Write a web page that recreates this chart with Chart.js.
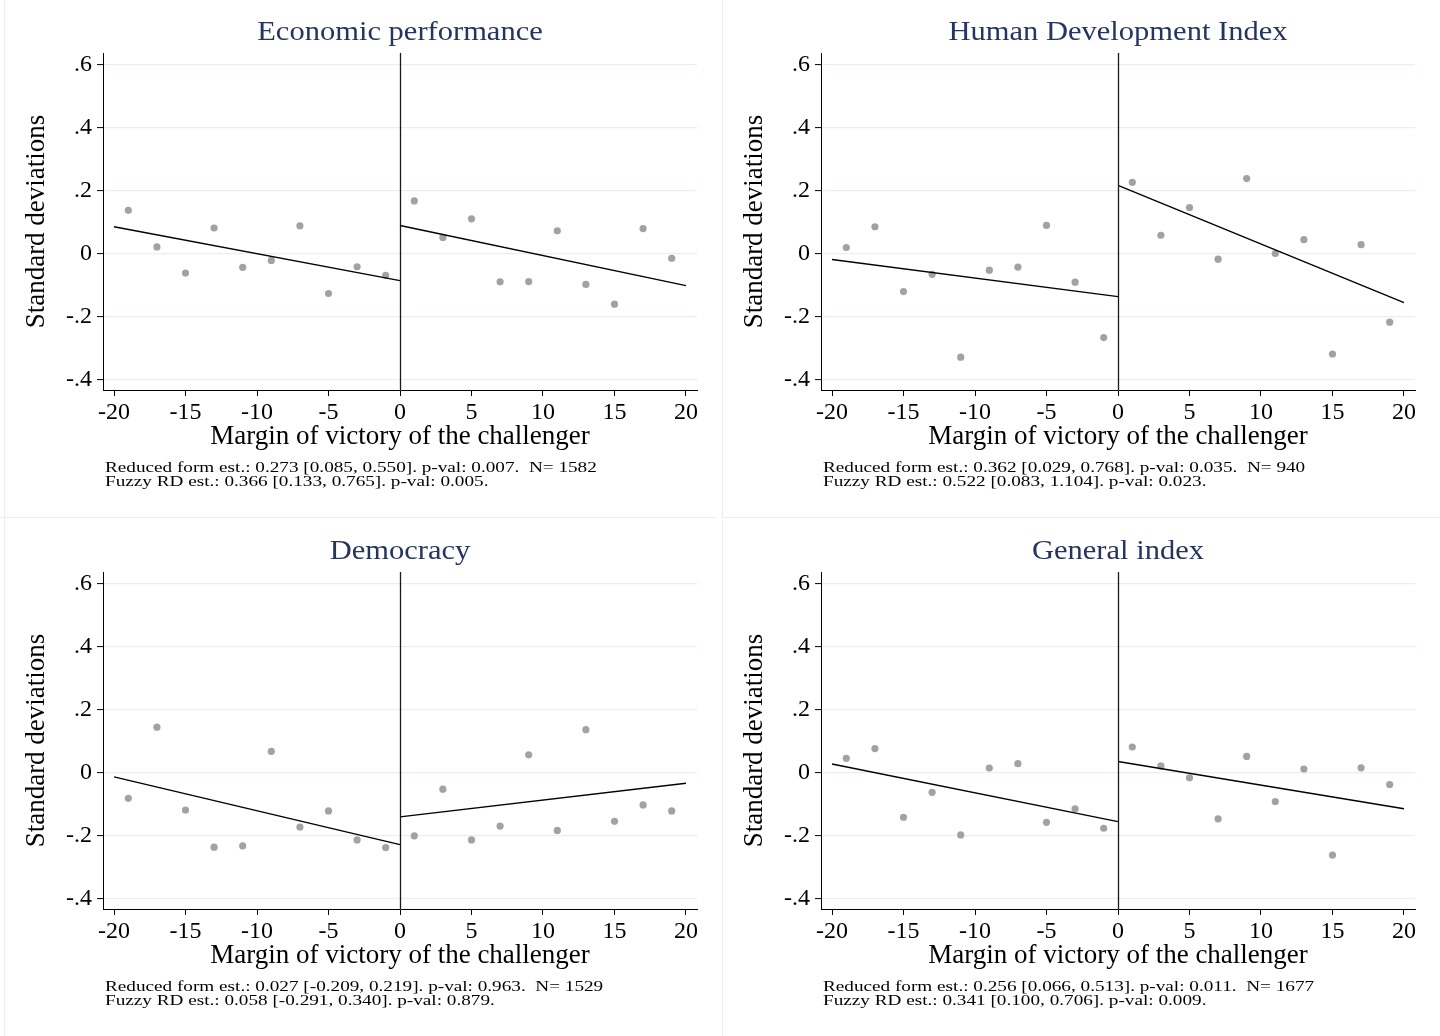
<!DOCTYPE html>
<html>
<head>
<meta charset="utf-8">
<script src="https://cdn.jsdelivr.net/npm/chart.js@4.4.1/dist/chart.umd.min.js"></script>
<style>
  html, body { margin: 0; padding: 0; background: #ffffff; width: 1440px; height: 1036px; overflow: hidden; }
  .panel { position: absolute; width: 720px; height: 518px; }
  .panel canvas { position: absolute; left: 0; top: 0; }
  .frame { position: absolute; background: #e6f0f2; }
  .ttl { position: absolute; left: 103px; width: 594px; top: 15px; text-align: center;
         font-family: "Liberation Serif", serif; font-size: 28px; color: #25355f; white-space: nowrap;
         transform: scaleX(1.09); transform-origin: 50% 50%; }
  .note { position: absolute; left: 105px; top: 460px; font-family: "Liberation Serif", serif;
          font-size: 15px; line-height: 14px; color: #000; white-space: pre;
          transform: scaleX(1.28); transform-origin: 0 0; }
</style>
</head>
<body>
<div class="frame" style="left:4px;top:0;width:1px;height:1036px"></div>
<div class="frame" style="left:722px;top:0;width:1px;height:517px"></div>
<div class="frame" style="left:722px;top:520px;width:1px;height:516px"></div>
<div class="frame" style="left:0;top:517px;width:716px;height:1px"></div>
<div class="frame" style="left:722px;top:517px;width:718px;height:1px"></div>

<div class="panel" id="p0" style="left:0;top:0"><canvas id="c0" width="720" height="518"></canvas></div>
<div class="panel" id="p1" style="left:718px;top:0"><canvas id="c1" width="720" height="518"></canvas></div>
<div class="panel" id="p2" style="left:0;top:519px"><canvas id="c2" width="720" height="518"></canvas></div>
<div class="panel" id="p3" style="left:718px;top:519px"><canvas id="c3" width="720" height="518"></canvas></div>

<script>
// Bin midpoints of the running variable (margin of victory, in points)
const bins = [-19, -17, -15, -13, -11, -9, -7, -5, -3, -1, 1, 3, 5, 7, 9, 11, 13, 15, 17, 19];

// Binned means (standard deviations) for each outcome
const econValues    = [0.137, 0.021, -0.062, 0.081, -0.044, -0.022, 0.088, -0.127, -0.042, -0.069,
                       0.167, 0.051, 0.110, -0.090, -0.089, 0.072, -0.098, -0.161, 0.079, -0.015];
const hdiValues     = [0.019, 0.085, -0.121, -0.066, -0.329, -0.053, -0.043, 0.089, -0.091, -0.267,
                       0.226, 0.058, 0.146, -0.018, 0.238, 0.000, 0.044, -0.319, 0.028, -0.218];
const democValues   = [-0.082, 0.144, -0.119, -0.237, -0.233, 0.067, -0.173, -0.122, -0.214, -0.238,
                       -0.201, -0.053, -0.214, -0.170, 0.056, -0.184, 0.136, -0.155, -0.103, -0.122];
const generalValues = [0.045, 0.076, -0.142, -0.063, -0.198, 0.014, 0.028, -0.158, -0.115, -0.177,
                       0.081, 0.021, -0.017, -0.147, 0.051, -0.092, 0.011, -0.262, 0.015, -0.038];

// Linear fits on each side of the cutoff: x endpoints and fitted values
const fitLeftX  = [-20, 0];
const fitRightX = [0, 20];
const econFitLeft     = [0.085, -0.086];
const econFitRight    = [0.089, -0.102];
const hdiFitLeft      = [-0.019, -0.137];
const hdiFitRight     = [0.216, -0.156];
const democFitLeft    = [-0.014, -0.229];
const democFitRight   = [-0.141, -0.034];
const generalFitLeft  = [0.027, -0.156];
const generalFitRight = [0.035, -0.115];

// Axis ticks
const xTicks = [-20, -15, -10, -5, 0, 5, 10, 15, 20];
const yTicks = [-0.4, -0.2, 0, 0.2, 0.4, 0.6];
const yTickLabels = ['-.4', '-.2', '0', '.2', '.4', '.6'];

// Panel titles and estimate notes
const titles = ['Economic performance', 'Human Development Index', 'Democracy', 'General index'];
const notes = [
  ['Reduced form est.: 0.273 [0.085, 0.550]. p-val: 0.007.  N= 1582',
   'Fuzzy RD est.: 0.366 [0.133, 0.765]. p-val: 0.005.'],
  ['Reduced form est.: 0.362 [0.029, 0.768]. p-val: 0.035.  N= 940',
   'Fuzzy RD est.: 0.522 [0.083, 1.104]. p-val: 0.023.'],
  ['Reduced form est.: 0.027 [-0.209, 0.219]. p-val: 0.963.  N= 1529',
   'Fuzzy RD est.: 0.058 [-0.291, 0.340]. p-val: 0.879.'],
  ['Reduced form est.: 0.256 [0.066, 0.513]. p-val: 0.011.  N= 1677',
   'Fuzzy RD est.: 0.341 [0.100, 0.706]. p-val: 0.009.']
];
const xTitle = 'Margin of victory of the challenger';
const yTitle = 'Standard deviations';

const panels = [
  { values: econValues,    left: econFitLeft,    right: econFitRight },
  { values: hdiValues,     left: hdiFitLeft,     right: hdiFitRight },
  { values: democValues,   left: democFitLeft,   right: democFitRight },
  { values: generalValues, left: generalFitLeft, right: generalFitRight }
];

const serif = '"Liberation Serif", "Times New Roman", serif';

// Vertical reference line at the cutoff (x = 0)
const cutoffLine = {
  id: 'cutoffLine',
  afterDatasetsDraw(chart) {
    const { ctx, chartArea, scales } = chart;
    const px = Math.round(scales.x.getPixelForValue(0)) + 0.5;
    ctx.save();
    ctx.strokeStyle = '#1a1a1a';
    ctx.lineWidth = 1.3;
    ctx.beginPath();
    ctx.moveTo(px, chartArea.top);
    ctx.lineTo(px, chartArea.bottom);
    ctx.stroke();
    ctx.restore();
  }
};

panels.forEach((p, i) => {
  const panel = document.getElementById('p' + i);
  const t = document.createElement('div');
  t.className = 'ttl';
  t.textContent = titles[i];
  panel.appendChild(t);
  const n = document.createElement('div');
  n.className = 'note';
  n.textContent = notes[i].join('\n');
  panel.appendChild(n);

  const scatterData = bins.map((x, k) => ({ x: x, y: p.values[k] }));
  const leftLine = fitLeftX.map((x, k) => ({ x: x, y: p.left[k] }));
  const rightLine = fitRightX.map((x, k) => ({ x: x, y: p.right[k] }));

  new Chart(document.getElementById('c' + i), {
    type: 'scatter',
    data: {
      datasets: [
        { type: 'line', data: leftLine, borderColor: '#000', borderWidth: 1.4, pointRadius: 0, fill: false, order: 1 },
        { type: 'line', data: rightLine, borderColor: '#000', borderWidth: 1.4, pointRadius: 0, fill: false, order: 1 },
        { type: 'scatter', data: scatterData, pointRadius: 3.6, pointBackgroundColor: '#a2a2a2',
          pointBorderWidth: 0, borderColor: 'rgba(0,0,0,0)', order: 2 }
      ]
    },
    options: {
      responsive: false,
      animation: false,
      devicePixelRatio: 1,
      layout: { padding: { left: 0, top: 53, right: 23, bottom: 0 } },
      plugins: { legend: { display: false }, tooltip: { enabled: false }, title: { display: false } },
      scales: {
        x: {
          type: 'linear',
          min: -20.77,
          max: 20.77,
          afterBuildTicks: s => { s.ticks = xTicks.map(v => ({ value: v })); },
          afterFit: s => { s.height = 128; },
          grid: { drawOnChartArea: false, tickLength: 6, tickColor: '#000', tickWidth: 1 },
          border: { color: '#000', width: 1 },
          ticks: { font: { family: serif, size: 24 }, color: '#000', padding: 2, maxRotation: 0, autoSkip: false,
                   callback: v => String(v) },
          title: { display: true, text: xTitle, font: { family: serif, size: 27 }, color: '#000',
                   padding: { top: 0, bottom: 65 } }
        },
        y: {
          type: 'linear',
          min: -0.4333,
          max: 0.6365,
          afterBuildTicks: s => { s.ticks = yTicks.map(v => ({ value: v })); },
          afterFit: s => { s.width = 103; },
          grid: { color: '#e7eff3', lineWidth: 1.2, tickLength: 6, tickColor: '#000', tickWidth: 1 },
          border: { color: '#000', width: 1 },
          ticks: { font: { family: serif, size: 24 }, color: '#000', padding: 5, autoSkip: false,
                   callback: v => yTickLabels[yTicks.findIndex(t => Math.abs(t - v) < 1e-9)] },
          title: { display: true, text: yTitle, font: { family: serif, size: 27 }, color: '#000',
                   padding: { top: 21, bottom: 0 } }
        }
      }
    },
    plugins: [cutoffLine]
  });
});
</script>
</body>
</html>
